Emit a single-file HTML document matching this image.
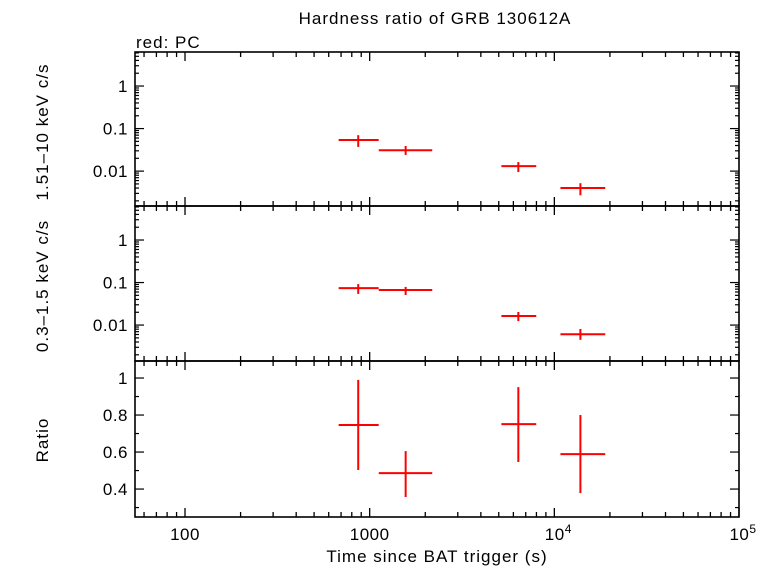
<!DOCTYPE html>
<html><head><meta charset="utf-8"><style>
body{margin:0;background:#fff}
svg text{font-family:"Liberation Sans",sans-serif;font-size:17px;fill:#000}
.big{letter-spacing:1px}
</style></head><body>
<svg id="c" width="766" height="566" xmlns="http://www.w3.org/2000/svg">
<text class="big" x="435" y="24" text-anchor="middle">Hardness ratio of GRB 130612A</text>
<text class="big" x="136" y="48">red: PC</text>
<text class="big" x="437" y="562" text-anchor="middle">Time since BAT trigger (s)</text>
<text class="big" transform="translate(48,132) rotate(-90)" text-anchor="middle">1.51–10 keV c/s</text>
<text class="big" transform="translate(48,286) rotate(-90)" text-anchor="middle">0.3–1.5 keV c/s</text>
<text class="big" transform="translate(48,440) rotate(-90)" text-anchor="middle">Ratio</text>
</svg>
<script>
const tCenter=[867,1566,6383,13840];
const tLo=[679,1120,5167,10790];
const tHi=[1119,2182,7980,18870];
const hard=[0.054,0.031,0.0131,0.0040];
const hardLo=[0.037,0.024,0.0095,0.0027];
const hardHi=[0.070,0.039,0.0163,0.0052];
const soft=[0.074,0.067,0.0163,0.0061];
const softLo=[0.054,0.051,0.0124,0.0045];
const softHi=[0.092,0.079,0.0203,0.0081];
const ratio=[0.746,0.486,0.751,0.589];
const ratioLo=[0.503,0.357,0.546,0.378];
const ratioHi=[0.99,0.605,0.951,0.8];
const xTickLabels=["100","1000","10^4","10^5"];
const logTickLabels=["1","0.1","0.01"];
const ratioTicks=[0.4,0.6,0.8,1];

const svg=document.getElementById('c');
const NS='http://www.w3.org/2000/svg';
const L=135,R=739;
const xMin=Math.log10(53.6),xMax=5;
const X=v=>L+(Math.log10(v)-xMin)/(xMax-xMin)*(R-L);
function mk(t,a,name){const e=document.createElementNS(NS,t);for(const k in a)e.setAttribute(k,a[k]);


svg.appendChild(e);return e;}
function ln(x1,y1,x2,y2,c,w,name){return mk('line',{x1,y1,x2,y2,stroke:c,'stroke-width':w},name);}

const panels=[
 {top:52,bot:206,log:true,yMax:0.8,yMin:-2.82,v:hard,lo:hardLo,hi:hardHi,n:'hard'},
 {top:206,bot:361,log:true,yMax:0.8,yMin:-2.845,v:soft,lo:softLo,hi:softHi,n:'soft'},
 {top:361,bot:517,log:false,yMax:1.092,yMin:0.249,v:ratio,lo:ratioLo,hi:ratioHi,n:'ratio'}
];
panels.forEach((p,pi)=>{
 const Y=v=>{const t=p.log?Math.log10(v):v;return p.top+(p.yMax-t)/(p.yMax-p.yMin)*(p.bot-p.top);};
 mk('rect',{x:L,y:p.top,width:R-L,height:p.bot-p.top,fill:'none',stroke:'#000','stroke-width':1.6},'panel-frame-'+p.n);
 for(let d=1;d<=5;d++){for(let m=1;m<=9;m++){const v=m*Math.pow(10,d);if(v<53.6||v>1e5)continue;
  const len=m===1?9:5;const x=X(v);
  ln(x,p.bot,x,p.bot-len,'#000',1.3,'x-tick');ln(x,p.top,x,p.top+len,'#000',1.3,'x-tick');}}
 if(p.log){
  for(let d=-3;d<=0;d++){for(let m=1;m<=9;m++){const v=m*Math.pow(10,d);const y=Y(v);if(y<p.top+0.5||y>p.bot-0.5)continue;
   const len=m===1?9:4;ln(L,y,L+len,y,'#000',1.2,'y-tick');ln(R,y,R-len,y,'#000',1.2,'y-tick');}}
  logTickLabels.forEach((s,i)=>{const t=mk('text',{x:L-7,y:Y(Math.pow(10,-i))+6,'text-anchor':'end','letter-spacing':'0.5'},'y-tick-label-'+p.n);t.textContent=s;});
 }else{
  for(let v=0.3;v<=1.09;v+=0.1){const y=Y(v);const major=Math.abs(Math.round(v*10)%2)===0;const len=major?9:4;
   ln(L,y,L+len,y,'#000',1.2,'y-tick');ln(R,y,R-len,y,'#000',1.2,'y-tick');}
  ratioTicks.forEach(v=>{const t=mk('text',{x:L-7,y:Y(v)+6,'text-anchor':'end','letter-spacing':'0.5'},'y-tick-label-ratio');t.textContent=String(v);});
 }
 p.v.forEach((v,i)=>{
  ln(X(tLo[i]),Y(v),X(tHi[i]),Y(v),'#f00',2,'xerr-'+p.n+'-'+i);
  ln(X(tCenter[i]),Y(p.lo[i]),X(tCenter[i]),Y(p.hi[i]),'#f00',2,'yerr-'+p.n+'-'+i);
 });
});
xTickLabels.forEach((s,i)=>{const x=X(Math.pow(10,i+2));
 const t=mk('text',{x:x,y:540,'text-anchor':'middle','letter-spacing':'0.5'},'x-tick-label');
 if(s.indexOf('^')>0){const [b,e]=s.split('^');t.textContent=b;const ts=document.createElementNS(NS,'tspan');ts.setAttribute('dy','-7');ts.setAttribute('font-size','12');ts.textContent=e;t.appendChild(ts);t.setAttribute('x',x+4);}
 else t.textContent=s;});
</script>
</body></html>
